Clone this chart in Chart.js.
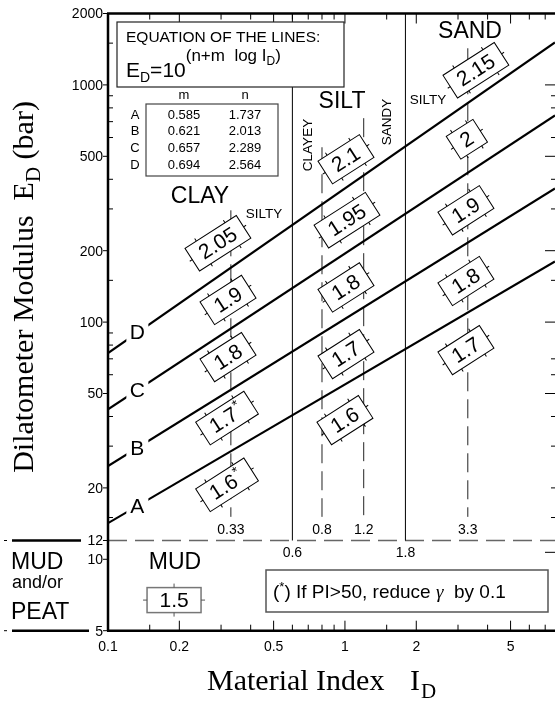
<!DOCTYPE html>
<html><head><meta charset="utf-8">
<script src="https://cdn.jsdelivr.net/npm/chart.js@4"></script>
<style>html,body{margin:0;padding:0;background:#fff;overflow:hidden}</style>
</head><body>
<div style="width:555px;height:702px;position:relative"><canvas id="c" width="555" height="702"></canvas></div>
<script>
// ---------------- DATA ----------------
const lineNames = ['A','B','C','D'];
const lineM = ['0.585','0.621','0.657','0.694'];
const lineN = ['1.737','2.013','2.289','2.564'];
const lineEndsID = [0.1, 7.7];
const lineStartED = [14.2, 24.7, 42.9, 74.1];
const lineEndED = [180, 366, 744, 1511];
const letterID = 0.133;
const letterED = [16.8, 29.4, 51.7, 90.3];

const boundaryID = [0.6, 1.8];
const boundaryLabels = ['0.6', '1.8'];
const boundaryED = [12, 2000];
const subBoundaryID = [0.33, 0.8, 1.2, 3.3];
const subBoundaryLabels = ['0.33', '0.8', '1.2', '3.3'];
const subBoundaryTopED = [296, 546, 724, 1427];
const subBoundaryBottomED = 15.1;
const mudLimitED = 12;

const gammaLabels = ['2.05','1.9','1.8','1.7','1.6','2.1','1.95','1.8','1.7','1.6','2.15','2','1.9','1.8','1.7'];
const gammaStar  = [false,false,false,true,true,false,false,false,false,false,false,false,false,false,false];
const gammaID = [0.291,0.321,0.321,0.318,0.318, 1.01,1.02,1.01,1.01,1.0, 3.57,3.27,3.24,3.24,3.24];
const gammaED = [215,124,71.2,39.4,20.6, 486,269,140,73.3,38.6, 1153,590,296,149,76.2];
const mudGamma = '1.5', mudGammaID = 0.19, mudGammaED = 6.73;

const xTickValues = [0.1,0.2,0.5,1,2,5];
const xTickLabels = ['0.1','0.2','0.5','1','2','5'];
const xMinorTicks = [0.15,0.3,0.4,0.6,0.7,0.8,0.9,1.5,3,4,6,7];
const yTickValues = [2000,1000,500,200,100,50,20,12,10,5];
const yTickLabels = ['2000','1000','500','200','100','50','20','12','10','5'];
const yMinorTicks = [1500,900,800,700,600,400,300,150,90,80,70,60,40,30,15];
const rightMajorTicks = [1000,500,200,100,50,10.7];
const rightMinorTicks = [900,800,600,400,300,150,70,60,40,30,20,15];

// ---------------- CHART ----------------
const SANS = '"Liberation Sans", Arial, sans-serif';
const SERIF = '"Liberation Serif", "Times New Roman", serif';

const datasets = [];
lineNames.forEach((nm, i) => {
  datasets.push({label: nm, data: [{x: lineEndsID[0], y: lineStartED[i]}, {x: lineEndsID[1], y: lineEndED[i]}],
    borderColor: '#000', borderWidth: 2.2, pointRadius: 0, showLine: true});
});
boundaryID.forEach((v) => {
  datasets.push({data: [{x: v, y: boundaryED[0]}, {x: v, y: boundaryED[1]}],
    borderColor: '#000', borderWidth: 1, pointRadius: 0, showLine: true});
});
subBoundaryID.forEach((v, i) => {
  datasets.push({data: [{x: v, y: subBoundaryTopED[i]}, {x: v, y: subBoundaryBottomED}],
    borderColor: '#222', borderWidth: 1, borderDash: [19, 8], pointRadius: 0, showLine: true});
});
datasets.push({data: [{x: lineEndsID[0], y: mudLimitED}, {x: lineEndsID[1], y: mudLimitED}],
  borderColor: '#666', borderWidth: 1.3, borderDash: [19, 8], pointRadius: 0, showLine: true});

function gbox(ctx, cx, cy, text, star, angle) {
  ctx.save();
  ctx.translate(cx, cy);
  ctx.rotate(angle);
  ctx.font = '21px ' + SANS;
  const tw = ctx.measureText(text).width;
  const sw = star ? 8 : 0;
  const w = tw + sw + 20, h = 27;
  ctx.fillStyle = '#fff';
  ctx.fillRect(-w / 2, -h / 2, w, h);
  ctx.strokeStyle = '#000';
  ctx.lineWidth = 1;
  ctx.strokeRect(-w / 2, -h / 2, w, h);
  ctx.beginPath();
  [-0.28, 0.28].forEach(f => {
    ctx.moveTo(f * w, -h / 2); ctx.lineTo(f * w, -h / 2 - 3);
    ctx.moveTo(f * w, h / 2); ctx.lineTo(f * w, h / 2 + 3);
  });
  ctx.moveTo(-w / 2, 0); ctx.lineTo(-w / 2 - 3, 0);
  ctx.moveTo(w / 2, 0); ctx.lineTo(w / 2 + 3, 0);
  ctx.stroke();
  ctx.fillStyle = '#000';
  ctx.textAlign = 'left';
  ctx.textBaseline = 'middle';
  ctx.fillText(text, -(tw + sw) / 2, 1);
  if (star) {
    ctx.font = '14px ' + SANS;
    ctx.fillText('*', -(tw + sw) / 2 + tw + 1, -6);
  }
  ctx.restore();
}

const decor = {
  id: 'decor',
  afterDraw(chart) {
    const ctx = chart.ctx;
    const xs = chart.scales.x, ys = chart.scales.y;
    const X = v => xs.getPixelForValue(v), Y = v => ys.getPixelForValue(v);
    const L = chart.chartArea.left, R = chart.chartArea.right, T = chart.chartArea.top, B = chart.chartArea.bottom;
    ctx.save();

    // letters on lines (white gap)
    ctx.font = '21px ' + SANS;
    ctx.textAlign = 'center'; ctx.textBaseline = 'middle';
    lineNames.forEach((nm, i) => {
      const px = X(letterID), py = Y(letterED[i]);
      ctx.fillStyle = '#fff';
      ctx.fillRect(px - 11, py - 14, 22, 28);
      ctx.fillStyle = '#000';
      ctx.fillText(nm, px, py + 1);
    });

    // axes lines
    ctx.strokeStyle = '#000';
    ctx.lineWidth = 2.5;
    ctx.beginPath();
    ctx.moveTo(L, T); ctx.lineTo(L, B);
    ctx.moveTo(L - 1, B); ctx.lineTo(R, B);
    ctx.moveTo(L - 1, T); ctx.lineTo(R, T);
    ctx.stroke();

    // x ticks (inward on bottom and top)
    ctx.lineWidth = 1;
    ctx.beginPath();
    xTickValues.forEach(v => { if (v > 0.1) { const p = X(v); ctx.moveTo(p, B); ctx.lineTo(p, B - 10); ctx.moveTo(p, T); ctx.lineTo(p, T + 10); } });
    xMinorTicks.forEach(v => { const p = X(v); ctx.moveTo(p, B); ctx.lineTo(p, B - 6); ctx.moveTo(p, T); ctx.lineTo(p, T + 6); });
    // y ticks
    yTickValues.forEach(v => { const p = Y(v); ctx.moveTo(L - 5, p); ctx.lineTo(L, p); });
    yMinorTicks.forEach(v => { const p = Y(v); ctx.moveTo(L, p); ctx.lineTo(L + 5, p); });
    rightMajorTicks.forEach(v => { const p = Y(v); ctx.moveTo(R, p); ctx.lineTo(R - 10, p); });
    rightMinorTicks.forEach(v => { const p = Y(v); ctx.moveTo(R, p); ctx.lineTo(R - 4, p); });
    ctx.stroke();

    // tick labels
    ctx.fillStyle = '#000';
    ctx.font = '14px ' + SANS;
    ctx.textAlign = 'center'; ctx.textBaseline = 'middle';
    xTickValues.forEach((v, i) => ctx.fillText(xTickLabels[i], X(v), B + 16));
    ctx.textAlign = 'right';
    yTickValues.forEach((v, i) => ctx.fillText(yTickLabels[i], L - 5, Y(v) + 1));

    // boundary labels
    ctx.textAlign = 'center';
    boundaryID.forEach((v, i) => ctx.fillText(boundaryLabels[i], X(v), Y(mudLimitED) + 13));
    subBoundaryID.forEach((v, i) => ctx.fillText(subBoundaryLabels[i], X(v), Y(subBoundaryBottomED) + 13));

    // MUD / PEAT side legend
    ctx.lineWidth = 2.5;
    ctx.beginPath();
    ctx.moveTo(12, Y(mudLimitED)); ctx.lineTo(81, Y(mudLimitED));
    ctx.moveTo(12, B); ctx.lineTo(89, B);
    ctx.stroke();
    ctx.lineWidth = 1;
    ctx.beginPath();
    ctx.moveTo(4, Y(mudLimitED)); ctx.lineTo(7, Y(mudLimitED));
    ctx.moveTo(4, B); ctx.lineTo(7, B);
    ctx.stroke();
    ctx.textAlign = 'left';
    ctx.font = '23px ' + SANS;
    ctx.fillText('MUD', 11, Y(mudLimitED) + 22);
    ctx.font = '18px ' + SANS;
    ctx.fillText('and/or', 12, Y(mudLimitED) + 43);
    ctx.font = '23px ' + SANS;
    ctx.fillText('PEAT', 11, Y(mudLimitED) + 72);

    // zone names
    ctx.textAlign = 'center';
    ctx.font = '23px ' + SANS;
    ctx.fillText('CLAY', 200, 197);
    ctx.fillText('SILT', 342, 102);
    ctx.fillText('SAND', 470, 32);
    ctx.fillText('MUD', 175, 563);
    ctx.font = '13.5px ' + SANS;
    ctx.fillText('SILTY', 264, 214);
    ctx.fillText('SILTY', 428, 100);
    ctx.save(); ctx.translate(308, 145); ctx.rotate(-Math.PI / 2); ctx.fillText('CLAYEY', 0, 0); ctx.restore();
    ctx.save(); ctx.translate(387, 122); ctx.rotate(-Math.PI / 2); ctx.fillText('SANDY', 0, 0); ctx.restore();

    // gamma boxes
    const ang = -Math.atan(0.64);
    gammaLabels.forEach((t, i) => gbox(ctx, X(gammaID[i]), Y(gammaED[i]), t, gammaStar[i], ang));

    // mud gamma box
    {
      const cx = X(mudGammaID), cy = Y(mudGammaED);
      ctx.font = '21px ' + SANS;
      const w = 54, h = 25;
      ctx.fillStyle = '#fff'; ctx.fillRect(cx - w / 2, cy - h / 2, w, h);
      ctx.strokeStyle = '#777'; ctx.lineWidth = 1.5; ctx.strokeRect(cx - w / 2, cy - h / 2, w, h);
      ctx.lineWidth = 1; ctx.strokeStyle = '#555';
      ctx.beginPath();
      ctx.moveTo(cx, cy - h / 2); ctx.lineTo(cx, cy - h / 2 - 4);
      ctx.moveTo(cx, cy + h / 2); ctx.lineTo(cx, cy + h / 2 + 4);
      ctx.moveTo(cx - w / 2, cy); ctx.lineTo(cx - w / 2 - 4, cy);
      ctx.moveTo(cx + w / 2, cy); ctx.lineTo(cx + w / 2 + 4, cy);
      ctx.stroke();
      ctx.fillStyle = '#000'; ctx.textAlign = 'center'; ctx.textBaseline = 'middle';
      ctx.fillText(mudGamma, cx, cy + 1);
    }

    // footnote box
    ctx.fillStyle = '#fff'; ctx.fillRect(266, 570, 282, 42);
    ctx.strokeStyle = '#555'; ctx.lineWidth = 1.5; ctx.strokeRect(266, 570, 282, 42);
    ctx.fillStyle = '#000'; ctx.textAlign = 'left'; ctx.textBaseline = 'alphabetic';
    {
      let x = 273; const by = 598;
      ctx.font = '19px ' + SANS;
      ctx.fillText('(', x, by); x += ctx.measureText('(').width;
      ctx.font = '13px ' + SANS;
      ctx.fillText('*', x, by - 7); x += ctx.measureText('*').width;
      ctx.font = '19px ' + SANS;
      const s = ') If PI>50, reduce ';
      ctx.fillText(s, x, by); x += ctx.measureText(s).width;
      ctx.font = 'italic 19px ' + SERIF;
      ctx.fillText('\u03B3', x, by); x += ctx.measureText('\u03B3').width;
      ctx.font = '19px ' + SANS;
      ctx.fillText('  by 0.1', x, by);
    }

    // equation box
    ctx.fillStyle = '#fff'; ctx.fillRect(117, 22, 227, 65);
    ctx.strokeStyle = '#222'; ctx.lineWidth = 1.2; ctx.strokeRect(117, 22, 227, 65);
    ctx.fillStyle = '#000';
    ctx.font = '15.5px ' + SANS;
    ctx.fillText('EQUATION OF THE LINES:', 126, 42);
    {
      let x = 126; const by = 77;
      ctx.font = '21px ' + SANS;
      ctx.fillText('E', x, by); x += ctx.measureText('E').width;
      ctx.font = '14px ' + SANS;
      ctx.fillText('D', x, by + 5); x += ctx.measureText('D').width;
      ctx.font = '21px ' + SANS;
      ctx.fillText('=10', x, by); x += ctx.measureText('=10').width;
      ctx.font = '17px ' + SANS;
      const s = '(n+m  log I';
      ctx.fillText(s, x, by - 16); x += ctx.measureText(s).width;
      ctx.font = '12px ' + SANS;
      ctx.fillText('D', x, by - 12); x += ctx.measureText('D').width;
      ctx.font = '17px ' + SANS;
      ctx.fillText(')', x, by - 16);
    }

    // coefficient table
    ctx.font = '13px ' + SANS;
    ctx.textAlign = 'center'; ctx.textBaseline = 'middle';
    ctx.fillText('m', 184, 95);
    ctx.fillText('n', 245, 95);
    ctx.strokeStyle = '#444'; ctx.lineWidth = 1.2; ctx.strokeRect(146, 104, 132, 72);
    const rowY = [115, 131.5, 148, 165];
    lineNames.forEach((nm, i) => {
      ctx.fillText(nm, 135, rowY[i]);
      ctx.fillText(lineM[i], 184, rowY[i]);
      ctx.fillText(lineN[i], 245, rowY[i]);
    });

    // axis titles
    ctx.textBaseline = 'alphabetic';
    {
      ctx.save();
      ctx.translate(33, 287);
      ctx.rotate(-Math.PI / 2);
      const big = '30px ' + SERIF, small = '21px ' + SERIF;
      ctx.font = big; const a = 'Dilatometer Modulus  E'; const wa = ctx.measureText(a).width;
      const c = ' (bar)'; const wc = ctx.measureText(c).width;
      ctx.font = small; const wb = ctx.measureText('D').width;
      let x = -(wa + wb + wc) / 2;
      ctx.textAlign = 'left';
      ctx.font = big; ctx.fillText(a, x, 0); x += wa;
      ctx.font = small; ctx.fillText('D', x, 7); x += wb;
      ctx.font = big; ctx.fillText(c, x, 0);
      ctx.restore();
    }
    {
      const big = '30px ' + SERIF, small = '21px ' + SERIF;
      ctx.textAlign = 'left';
      ctx.font = big;
      ctx.fillText('Material Index', 207, 690);
      ctx.fillText('I', 410, 690);
      const wi = ctx.measureText('I').width;
      ctx.font = small;
      ctx.fillText('D', 410 + wi + 1, 698);
    }
    ctx.restore();
  }
};

new Chart(document.getElementById('c'), {
  type: 'scatter',
  data: {datasets},
  options: {
    responsive: false,
    animation: false,
    devicePixelRatio: 1,
    layout: {padding: {left: 108, top: 13.5, right: 0, bottom: 71.3}},
    plugins: {legend: {display: false}, tooltip: {enabled: false}},
    scales: {
      x: {type: 'logarithmic', min: 0.1, max: 7.7, display: false},
      y: {type: 'logarithmic', min: 5, max: 2000, display: false}
    }
  },
  plugins: [decor]
});
</script>
</body></html>
